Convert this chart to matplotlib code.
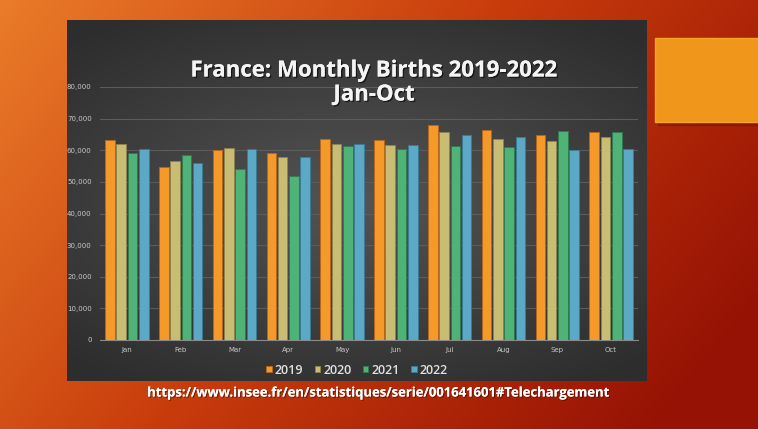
import matplotlib
matplotlib.use('Agg')
import matplotlib.pyplot as plt
import numpy as np
from matplotlib.patches import Rectangle
import matplotlib.patheffects as pe

months = ['Jan', 'Feb', 'Mar', 'Apr', 'May', 'Jun', 'Jul', 'Aug', 'Sep', 'Oct']
years = ['2019', '2020', '2021', '2022']
births_2019 = [63100, 54800, 60100, 59000, 63700, 63100, 67900, 66500, 64800, 65800]
births_2020 = [62100, 56500, 60700, 57800, 62100, 61800, 65900, 63400, 62900, 64100]
births_2021 = [59100, 58400, 54100, 52000, 61500, 60400, 61200, 60900, 66200, 65800]
births_2022 = [60400, 56100, 60400, 57800, 62100, 61800, 64800, 64100, 60100, 60400]
series = [births_2019, births_2020, births_2021, births_2022]
colors = ['#F59A2A', '#C9BD74', '#4FB276', '#5BA9C6']
edges = ['#B8661A', '#8E8450', '#2F7A4E', '#3A7A93']

W, H = 758, 429
fig = plt.figure(figsize=(W / 100, H / 100), dpi=100)

# slide background gradient
bg = fig.add_axes([0, 0, 1, 1])
yy, xx = np.mgrid[0:1:200j, 0:1:300j]
t = np.clip(0.75 * xx + 0.35 * yy, 0, 1)
c0 = np.array([234, 124, 42]) / 255
c1 = np.array([200, 60, 12]) / 255
c2 = np.array([150, 18, 4]) / 255
img = np.where(t[..., None] < 0.5,
               c0 + (c1 - c0) * (t[..., None] / 0.5),
               c1 + (c2 - c1) * ((t[..., None] - 0.5) / 0.5))
bg.imshow(img, extent=[0, W, H, 0], aspect='auto')

# orange box on the right with shadow
bg.add_patch(Rectangle((658, 41), 110, 84, color='#7A1A05', alpha=0.6))
bg.add_patch(Rectangle((655, 38), 110, 84, facecolor='#F0961A', edgecolor='#F7A52A', lw=1))

# dark chart panel, radial gradient
py, px = np.mgrid[-1:1:150j, -1:1:240j]
r = np.clip(np.sqrt((px * 0.9) ** 2 + (py * 1.1) ** 2) / 1.3, 0, 1)
g = (0.33 - 0.15 * r)
panel = np.dstack([g, g, g])
bg.imshow(panel, extent=[67, 647, 381, 20], aspect='auto')
bg.set_xlim(0, W)
bg.set_ylim(H, 0)
bg.axis('off')

# source text
bg.text(378, 393, 'https://www.insee.fr/en/statistiques/serie/001641601#Telechargement',
        ha='center', va='center', fontsize=9.4, fontweight='bold', family='Open Sans',
        color='white',
        path_effects=[pe.withSimplePatchShadow(offset=(0.8, -0.8), shadow_rgbFace='#3a0a00', alpha=0.6),
                      pe.Normal()])

# chart
ax = fig.add_axes([100 / W, 1 - 340 / H, 538 / W, (340 - 87) / H])
ax.set_facecolor('none')
x = np.arange(len(months))
bw = 0.178
step = 0.21
for i, vals in enumerate(series):
    ax.bar(x + (i - 1.5) * step, vals, width=bw, color=colors[i],
           edgecolor=edges[i], linewidth=0.6, label=years[i], zorder=3)

ax.set_ylim(0, 80000)
ax.set_xlim(-0.5, len(months) - 0.5)
ax.set_yticks(np.arange(0, 80001, 10000))
ax.set_yticklabels(['0'] + ['{:,}'.format(v) for v in range(10000, 80001, 10000)])
ax.set_xticks(x)
ax.set_xticklabels(months)
ax.tick_params(axis='both', length=0, labelsize=5, colors='#c8c8c8')
ax.tick_params(axis='y', pad=6)
ax.tick_params(axis='x', pad=5)
ax.grid(axis='y', color='#5c5c5c', linewidth=0.8, zorder=0)
for s in ['top', 'right', 'left']:
    ax.spines[s].set_visible(False)
ax.spines['bottom'].set_color('#8a8a8a')
ax.spines['bottom'].set_linewidth(0.8)

title_fx = [pe.withSimplePatchShadow(offset=(1, -1), shadow_rgbFace='black', alpha=0.6), pe.Normal()]
fig.text(374 / W, 1 - 71 / H, 'France: Monthly Births 2019-2022', ha='center', va='center',
         fontsize=16, fontweight='bold', family='Open Sans', color='#f4f4f4',
         path_effects=title_fx)
fig.text(374 / W, 1 - 95 / H, 'Jan-Oct', ha='center', va='center',
         fontsize=16, fontweight='bold', family='Open Sans', color='#f4f4f4',
         path_effects=title_fx)

leg = ax.legend(loc='center', bbox_to_anchor=(357 / 538 - 100 / 538, -(370 - 340) / (340 - 87)),
                ncol=4, frameon=False, handlelength=0.45, handleheight=0.45,
                handletextpad=0.25, columnspacing=0.9,
                prop={'family': 'Open Sans', 'size': 9, 'weight': 'semibold'})
for txt in leg.get_texts():
    txt.set_color('#e0e0e0')

fig.savefig('out.png', dpi=100)
